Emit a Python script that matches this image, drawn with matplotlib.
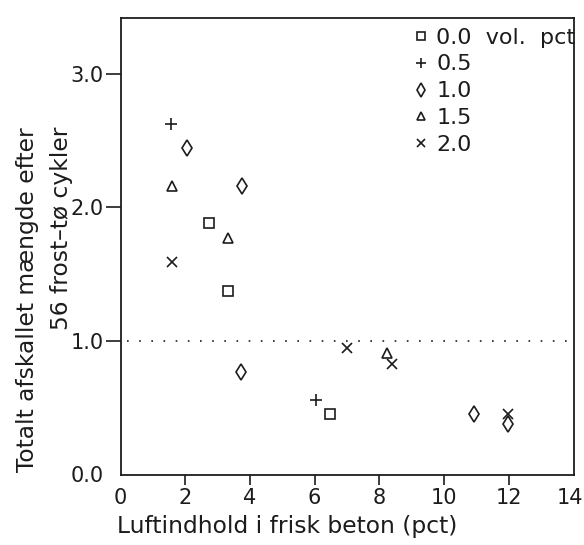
import matplotlib
matplotlib.use("Agg")
import matplotlib.pyplot as plt
from matplotlib.transforms import ScaledTranslation

# ---- data ----
labels = ["0.0  vol.  pct", "0.5", "1.0", "1.5", "2.0"]
x_00 = [2.75, 3.33, 6.49]
y_00 = [1.88, 1.37, 0.45]
x_05 = [1.57, 6.05]
y_05 = [2.62, 0.56]
x_10 = [2.05, 3.74, 3.72, 10.94, 11.98]
y_10 = [2.44, 2.16, 0.77, 0.45, 0.38]
x_15 = [1.60, 3.32, 8.25]
y_15 = [2.16, 1.77, 0.91]
x_20 = [1.59, 7.01, 8.38, 11.98]
y_20 = [1.59, 0.95, 0.83, 0.45]
xticks = [0, 2, 4, 6, 8, 10, 12, 14]
yticks = [0.0, 1.0, 2.0, 3.0]
ytick_labels = ["0.0", "1.0", "2.0", "3.0"]
limit_value = 1.0

plt.rcParams['font.family'] = ['DejaVu Sans']
ink = '#1c1c1c'
fs = 15
fs_lab = 16.8
fs_leg = 16

fig = plt.figure(figsize=(5.84, 5.45), dpi=100)
ax = fig.add_axes([120.5 / 584, 1 - 474.5 / 545, 453 / 584, 457 / 545])

ms = 7
mew = 1.2
series = [
    (x_00, y_00, 's', labels[0], ms),
    (x_05, y_05, '+', labels[1], ms + 1),
    (x_10, y_10, 'd', labels[2], ms + 1.5),
    (x_15, y_15, '^', labels[3], ms),
    (x_20, y_20, 'x', labels[4], ms),
]
for xs, ys, m, lab, s in series:
    ax.plot(xs, ys, linestyle='none', marker=m, markersize=s,
            markerfacecolor='none', markeredgecolor=ink,
            markeredgewidth=mew, label=lab)

ax.axhline(limit_value, xmin=0.015, xmax=1.0, color=ink,
           linewidth=1.2, dashes=(1, 6.3))

ax.set_xlim(0, 14)
ax.set_ylim(0, 3.42)
ax.set_xticks(xticks)
ax.set_yticks(yticks)
ax.set_yticklabels(ytick_labels)

for s in ['top', 'right', 'left', 'bottom']:
    ax.spines[s].set_color(ink)
    ax.spines[s].set_linewidth(1.3)

ax.tick_params(axis='x', direction='out', length=7, width=1.2,
               colors=ink, labelsize=fs, pad=3)
ax.tick_params(axis='y', direction='out', length=11, width=1.2,
               colors=ink, labelsize=fs, pad=1)
ax.xaxis.get_major_ticks()[0].tick1line.set_visible(False)
ax.xaxis.get_major_ticks()[-1].tick1line.set_visible(False)
ax.yaxis.get_major_ticks()[0].tick1line.set_visible(False)
last = ax.xaxis.get_major_ticks()[-1].label1
last.set_transform(last.get_transform() +
                   ScaledTranslation(-4 / 100, 0, fig.dpi_scale_trans))

ax.set_xlabel("Luftindhold i frisk beton (pct)", fontsize=fs_lab, color=ink,
              loc='left', labelpad=5)
ax.xaxis.label.set_x(-0.008)
fig.text(0.028, 0.767, "Totalt afskallet mængde efter\n56 frost\u2013tø cykler",
         rotation=90, fontsize=fs_lab, color=ink, ha='left', va='top',
         multialignment='right', linespacing=1.6)

leg = ax.legend(loc='upper left', bbox_to_anchor=(0.648, 0.978),
                frameon=False, fontsize=fs_leg, handlelength=0.6,
                handletextpad=0.4, labelspacing=0.31, borderpad=0,
                borderaxespad=0, markerscale=0.85)
for t in leg.get_texts():
    t.set_color(ink)

fig.savefig("out.png", dpi=100)
